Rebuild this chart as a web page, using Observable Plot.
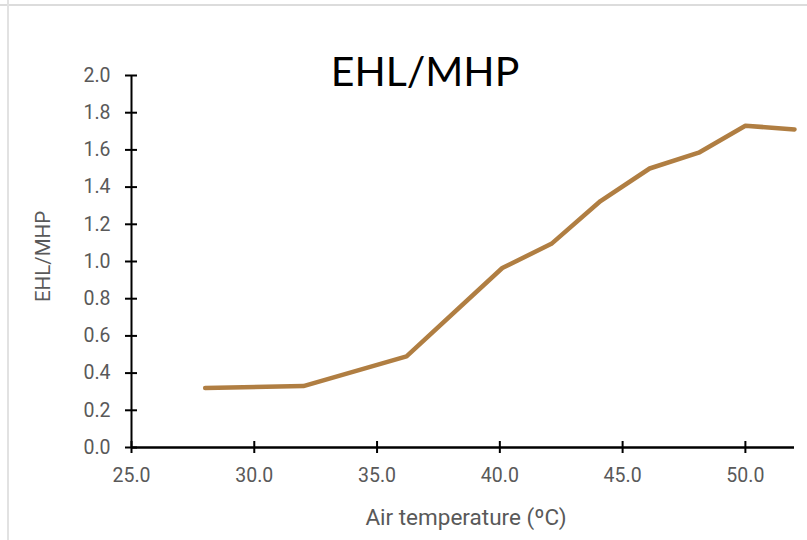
<!DOCTYPE html>
<html>
<head>
<meta charset="utf-8">
<script src="https://cdn.jsdelivr.net/npm/d3@7"></script>
<script src="https://cdn.jsdelivr.net/npm/@observablehq/plot@0.6"></script>
<style>
  html, body { margin: 0; padding: 0; background: #fff; }
  #wrap { position: relative; width: 807px; height: 540px; overflow: hidden; }
  #hline { position: absolute; left: 0; top: 4px; width: 807px; height: 2px; background: #dcdcdc; }
  #vline { position: absolute; left: 7px; top: 0; width: 2px; height: 540px; background: #e2e2e2; }
  #chart { position: absolute; left: 0; top: 0; }
</style>
</head>
<body>
<div id="wrap"><div id="hline"></div><div id="vline"></div><div id="chart"></div></div>
<script>
const titleText = "EHL/MHP";
const xLabel = "Air temperature (ºC)";
const yLabel = "EHL/MHP";
const temperature = [28, 32, 36.2, 40.1, 42.1, 44.1, 46.1, 48.1, 50, 52];
const ratio = [0.32, 0.33, 0.49, 0.965, 1.095, 1.325, 1.50, 1.585, 1.73, 1.71];
const xTicks = [25, 30, 35, 40, 45, 50];
const yTicks = [0, 0.2, 0.4, 0.6, 0.8, 1.0, 1.2, 1.4, 1.6, 1.8, 2.0];

const data = temperature.map((t, i) => ({t, r: ratio[i]}));
const gray = "#595959";

const chart = Plot.plot({
  width: 807,
  height: 540,
  marginLeft: 131,
  marginRight: 13,
  marginTop: 75,
  marginBottom: 93,
  style: {fontFamily: "Roboto, sans-serif", fontSize: "19px", background: "transparent"},
  x: {domain: [25, 52]},
  y: {domain: [0, 2]},
  marks: [
    Plot.axisX({ticks: xTicks, tickFormat: d3.format(".1f"), tickSize: 0, tickPadding: 21, color: gray, fontSize: 19.5,
      label: null}),
    Plot.text([xLabel], {frameAnchor: "bottom", dx: 3, dy: 70, lineAnchor: "middle", fill: gray, fontSize: 22.5}),
    Plot.axisY({ticks: yTicks, tickFormat: d3.format(".1f"), tickSize: 0, tickPadding: 21, color: gray, fontSize: 19.5,
      label: null}),
    Plot.text([yLabel], {frameAnchor: "left", textAnchor: "middle", dx: -88, dy: -5, rotate: -90, fill: gray, fontSize: 20.5}),
    Plot.ruleY(yTicks, {y: d => d, x1: 25, x2: 25, insetLeft: -6, insetRight: -6, stroke: "#000", strokeWidth: 2}),
    Plot.ruleX(xTicks, {x: d => d, y1: 0, y2: 0, insetTop: -6, insetBottom: -6, stroke: "#000", strokeWidth: 2}),
    Plot.ruleX([25], {stroke: "#000", strokeWidth: 2}),
    Plot.ruleY([0], {stroke: "#000", strokeWidth: 2.5}),
    Plot.line(data, {x: "t", y: "r", stroke: "#B07E42", strokeWidth: 4.5, strokeLinejoin: "round", strokeLinecap: "round"}),
    Plot.text([titleText], {frameAnchor: "top", dx: -38, dy: -3, lineAnchor: "middle", fill: "#000",
      fontSize: 41, fontFamily: "Lato, 'Open Sans', sans-serif"})
  ]
});
document.getElementById("chart").appendChild(chart);
</script>
</body>
</html>
